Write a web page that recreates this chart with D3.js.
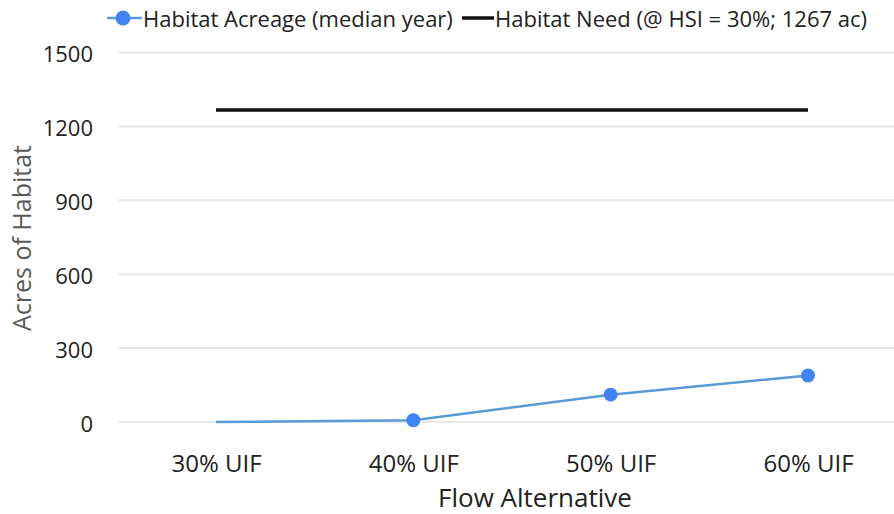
<!DOCTYPE html>
<meta charset="utf-8">
<style>
body { margin: 0; background: #fff; }
text { font-family: "Open Sans", sans-serif; }
</style>
<svg width="894" height="514"></svg>
<script src="https://d3js.org/d3.v7.min.js"></script>
<script>

var categories = ["30% UIF", "40% UIF", "50% UIF", "60% UIF"];
var acreage = [0, 7, 111, 189];
var need = [1267, 1267, 1267, 1267];
var yTicks = [0, 300, 600, 900, 1200, 1500];

var svg = d3.select("svg");

var x = d3.scalePoint().domain(categories).range([216, 808]);
var y = d3.scaleLinear().domain([0, 1500]).range([422, 52.5]);

// gridlines
svg.append("g")
  .selectAll("line")
  .data(yTicks)
  .enter().append("line")
  .attr("x1", 118).attr("x2", 894)
  .attr("y1", function(d) { return y(d); })
  .attr("y2", function(d) { return y(d); })
  .attr("stroke", "#e8e8e8")
  .attr("stroke-width", 2);

// y axis labels
var yAxis = svg.append("g")
  .attr("transform", "translate(93,0)")
  .call(d3.axisLeft(y).tickValues(yTicks).tickFormat(d3.format("d")).tickSize(0).tickPadding(0));
yAxis.select(".domain").remove();
yAxis.selectAll("text")
  .attr("font-size", 22).attr("fill", "#222")
  .attr("font-family", "'Open Sans', sans-serif")
  .attr("dy", "0.42em");

// x axis labels
var xAxis = svg.append("g")
  .attr("transform", "translate(0,472)")
  .call(d3.axisBottom(x).tickSize(0).tickPadding(0));
xAxis.select(".domain").remove();
xAxis.selectAll("text")
  .attr("font-size", 24).attr("fill", "#222")
  .attr("font-family", "'Open Sans', sans-serif")
  .attr("dy", 0);

// axis titles
svg.append("text")
  .attr("transform", "translate(31,238) rotate(-90)")
  .attr("text-anchor", "middle")
  .attr("font-size", 25)
  .attr("fill", "#595959")
  .text("Acres of Habitat");

svg.append("text")
  .attr("x", 535).attr("y", 507)
  .attr("text-anchor", "middle")
  .attr("font-size", 26)
  .attr("fill", "#222")
  .text("Flow Alternative");

// habitat need line
var needLine = d3.line()
  .x(function(d, i) { return x(categories[i]); })
  .y(function(d) { return y(d); });
svg.append("path")
  .datum(need)
  .attr("fill", "none")
  .attr("stroke", "#111")
  .attr("stroke-width", 3.5)
  .attr("d", needLine);

// habitat acreage line
var acreLine = d3.line()
  .x(function(d, i) { return x(categories[i]); })
  .y(function(d) { return y(d); });
svg.append("path")
  .datum(acreage)
  .attr("fill", "none")
  .attr("stroke", "#5b9bd5")
  .attr("stroke-width", 2.5)
  .attr("d", acreLine);

svg.selectAll(".dot")
  .data(acreage.map(function(v, i) { return { c: categories[i], v: v }; })
    .filter(function(d) { return d.v > 0; }))
  .enter().append("circle")
  .attr("class", "dot")
  .attr("cx", function(d) { return x(d.c); })
  .attr("cy", function(d) { return y(d.v); })
  .attr("r", 7)
  .attr("fill", "#3f83f4");

// legend
var lg = svg.append("g");
lg.append("line")
  .attr("x1", 107).attr("x2", 142).attr("y1", 18).attr("y2", 18)
  .attr("stroke", "#5b9bd5").attr("stroke-width", 2.5);
lg.append("circle")
  .attr("cx", 123).attr("cy", 18).attr("r", 7.5).attr("fill", "#3f83f4");
lg.append("text")
  .attr("x", 143).attr("y", 27)
  .attr("font-size", 22).attr("fill", "#222")
  .text("Habitat Acreage (median year)");
lg.append("line")
  .attr("x1", 462).attr("x2", 494).attr("y1", 18).attr("y2", 18)
  .attr("stroke", "#111").attr("stroke-width", 3.5);
lg.append("text")
  .attr("x", 495).attr("y", 27)
  .attr("font-size", 22).attr("fill", "#222")
  .text("Habitat Need (@ HSI = 30%; 1267 ac)");
</script>
